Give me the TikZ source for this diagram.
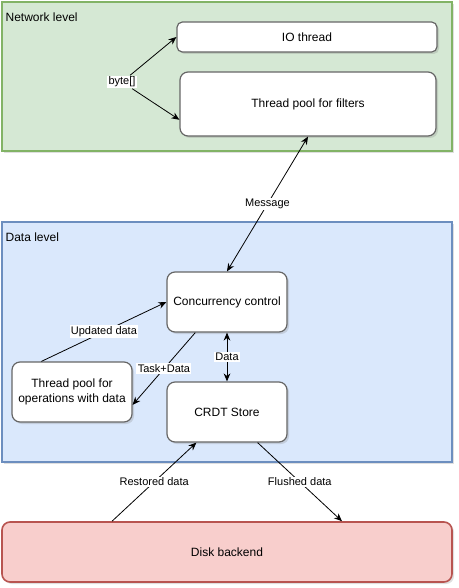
\documentclass[tikz,border=0pt]{standalone}
\usepackage{fontspec}
\setmainfont{Liberation Sans}
\usetikzlibrary{arrows.meta,shadows}
\definecolor{netfill}{HTML}{D5E8D4}
\definecolor{netline}{HTML}{82B366}
\definecolor{datafill}{HTML}{DAE8FC}
\definecolor{dataline}{HTML}{6C8EBF}
\definecolor{diskfill}{HTML}{F8CECC}
\definecolor{diskline}{HTML}{B85450}
\definecolor{boxline}{HTML}{666666}
\begin{document}
\begin{tikzpicture}[x=0.75pt,y=-0.75pt,
        level/.style={draw,line width=1.4pt,drop shadow={opacity=0.25,shadow xshift=1.5pt,shadow yshift=-1.5pt}},
        box/.style={draw=boxline,fill=white,rounded corners=6pt,line width=0.9pt,align=center,font=\fontsize{9}{11}\selectfont,
            drop shadow={opacity=0.25,shadow xshift=1.5pt,shadow yshift=-1.5pt}},
        lbl/.style={fill=white,inner sep=1pt,font=\fontsize{8.25}{10}\selectfont},
        link/.style={line width=0.6pt,-{Stealth[length=6pt,width=5pt]}}]
            \useasboundingbox (0,0) rectangle (458,588);
            % the two levels
            \node (net) at (227,76.5) [level,draw=netline,fill=netfill,minimum width=337.5pt,minimum height=111.75pt] {};
            \node (netname) at (4,17) [anchor=west,inner sep=1pt,font=\fontsize{9}{11}\selectfont] {Network level};
            \node (data) at (227,342) [level,draw=dataline,fill=datafill,minimum width=337.5pt,minimum height=180pt] {};
            \node (dataname) at (4,237) [anchor=west,inner sep=1pt,font=\fontsize{9}{11}\selectfont] {Data level};
            % boxes
            \node (io) at (307,37) [box,rounded corners=4pt,minimum width=195pt,minimum height=22.5pt] {IO thread};
            \node (filters) at (308,104) [box,minimum width=192pt,minimum height=48pt] {Thread pool for filters};
            \node (cc) at (227,302) [box,minimum width=90pt,minimum height=45pt] {Concurrency control};
            \node (crdt) at (227,412) [box,minimum width=90pt,minimum height=45pt] {CRDT Store};
            \node (ops) at (72,392) [box,minimum width=90pt,minimum height=45pt] {Thread pool for\\operations with data};
            \node (disk) at (227,552) [box,draw=diskline,fill=diskfill,line width=1.2pt,minimum width=337.5pt,minimum height=45pt] {Disk backend};
            \node (byte) at (122,82) [lbl] {byte[]};
            % connectors
            \draw[link] (byte) -- (io.west);
            \draw[link] (byte) -- (filters.187.6);
            \draw[link,{Stealth[length=6pt,width=5pt]}-{Stealth[length=6pt,width=5pt]}] (filters.south) -- node[lbl] {Message} (cc.north);
            \draw[link] (ops.135) -- node[lbl] {Updated data} (cc.west);
            \draw[link] (cc.224) -- node[lbl] {Task+Data} (ops.-12);
            \draw[link,{Stealth[length=6pt,width=5pt]}-{Stealth[length=6pt,width=5pt]}] (cc.south) -- node[lbl] {Data} (crdt.north);
            \draw[link] (disk.165) -- node[lbl] {Restored data} (crdt.225);
            \draw[link] (crdt.-45) -- node[lbl] {Flushed data} (disk.15);
        \end{tikzpicture}
\end{document}
